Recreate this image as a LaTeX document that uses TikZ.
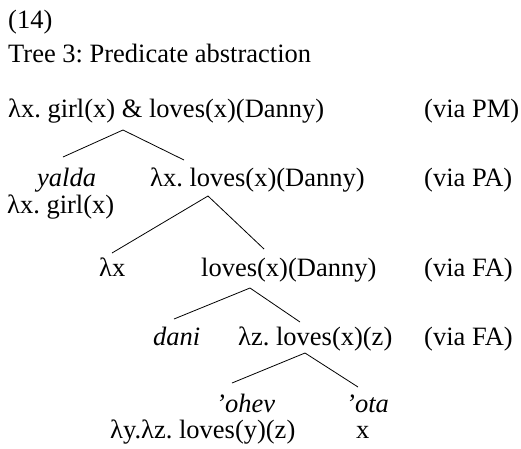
\documentclass[tikz,border=0pt]{standalone}
\usepackage{fontspec}
\setmainfont{Liberation Serif}
\frenchspacing
\begin{document}
\begin{tikzpicture}[x=1pt,y=-1pt,
  txt/.style={anchor=base west, inner sep=0pt, font=\fontsize{26.5}{31}\selectfont},
  itx/.style={txt, font=\fontsize{26.5}{31}\selectfont\itshape},
  branch/.style={line width=0.8pt}]
\useasboundingbox (0,0) rectangle (521,448);
% header
\node[txt] (num) at (8,28) {(14)};
\node[txt] (title) at (8,62) {Tree 3: Predicate abstraction};
% row 1
\node[txt] (r1) at (8,117) {λx. girl(x) \& loves(x)(Danny)};
\node[txt] (v1) at (424,117) {(via PM)};
% row 2
\node[itx] (yalda) at (37,186) {yalda};
\node[txt] (yaldam) at (7,213) {λx. girl(x)};
\node[txt] (r2) at (150,186) {λx. loves(x)(Danny)};
\node[txt] (v2) at (424,186) {(via PA)};
% row 3
\node[txt] (lx) at (99,276) {λx};
\node[txt] (r3) at (201,276) {loves(x)(Danny)};
\node[txt] (v3) at (424,276) {(via FA)};
% row 4
\node[itx] (dani) at (153,345) {dani};
\node[txt] (r4) at (238,345) {λz. loves(x)(z)};
\node[txt] (v4) at (424,345) {(via FA)};
% row 5
\node[itx] (ohev) at (216,412) {ʼohev};
\node[itx] (ota) at (346,412) {ʼota};
\node[txt] (ohevm) at (110,438) {λy.λz. loves(y)(z)};
\node[txt] (otam) at (356,438) {x};
% branch points
\coordinate (a1) at (123,130); \coordinate (a1l) at (63,157); \coordinate (a1r) at (184,160);
\coordinate (a2) at (208,196); \coordinate (a2l) at (112,253); \coordinate (a2r) at (264,249);
\coordinate (a3) at (250,288); \coordinate (a3l) at (174,319); \coordinate (a3r) at (300,322);
\coordinate (a4) at (305,353); \coordinate (a4l) at (232,383); \coordinate (a4r) at (358,387);
\draw[branch] (a1l) -- (a1) -- (a1r);
\draw[branch] (a2l) -- (a2) -- (a2r);
\draw[branch] (a3l) -- (a3) -- (a3r);
\draw[branch] (a4l) -- (a4) -- (a4r);
\end{tikzpicture}
\end{document}
